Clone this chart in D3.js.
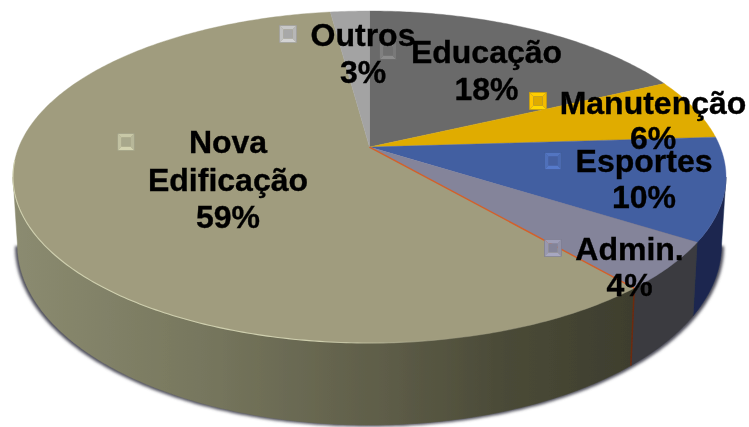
<!DOCTYPE html>
<html><head><meta charset="utf-8">
<script src="https://cdn.jsdelivr.net/npm/d3@7/dist/d3.min.js"></script>
<style>html,body{margin:0;padding:0;background:#fff}svg{display:block}</style>
</head><body><svg id="c" width="749" height="427"></svg>
<script>
const categories = ["Educação","Manutenção","Esportes","Admin.","Nova Edificação","Outros"];
const values = [18,6,10,4.7,59.2,2.1];
const percentLabels = ["18%","6%","10%","4%","59%","3%"];
const topColors = ["#6b6b6b","#e0ac00","#435ea1","#84849a","#a09c7e","#a3a3a3"];
const sideColors = ["#3a3a3a","#7a5e00","#1b2850","#3a3b40","#45452f","#555555"];
const keyColors = ["#777777","#eeb800","#4a68ad","#8e8ea4","#b4b496","#b4b4b4"];
const labelLines = [["Educação"],["Manutenção"],["Esportes"],["Admin."],["Nova","Edificação"],["Outros"]];

const svg = d3.select("#c");
const defs = svg.append("defs");
const tilt = 0.18;
const topX = d3.scaleLinear().domain([-1,1]).range([13,726]);
const topY = d3.scaleLinear().domain([-1,1]).range([343,11]);
const botX = d3.scaleLinear().domain([-1,1]).range([17.5,721.5]);
const botY = d3.scaleLinear().domain([-1,1]).range([425,65]);

function disk(theta){
  const u = Math.sin(theta), v = Math.cos(theta), d = 1 + tilt*v;
  return [Math.sqrt(1-tilt*tilt)*u/d, (v+tilt)/d];
}
const onTop = t => { const [a,b]=disk(t); return [topX(a),topY(b)]; };
const onBot = t => { const [a,b]=disk(t); return [botX(a),botY(b)]; };
const apex = [topX(0),topY(tilt)];
const samples = (a,b) => { const n=Math.max(2,Math.ceil((b-a)*80)); return d3.range(n+1).map(i=>a+(b-a)*i/n); };
const line = d3.line();

const arcs = d3.pie().sort(null).startAngle(0).endAngle(2*Math.PI)(values);
const visA = Math.acos(-tilt), visB = 2*Math.PI-visA;

const blur = defs.append("filter").attr("id","sh").attr("x","-5%").attr("y","-5%").attr("width","110%").attr("height","115%");
blur.append("feGaussianBlur").attr("stdDeviation",1.5);
const soft = defs.append("filter").attr("id","soft").attr("x","-2%").attr("y","-2%").attr("width","104%").attr("height","104%");
soft.append("feGaussianBlur").attr("stdDeviation",0.45);

const root = svg.append("g").attr("filter","url(#soft)");

// contact shadow under the disc
const botPts = samples(visA,visB).map(onBot);
root.append("path").attr("d", line(botPts.map(p=>[p[0]+(p[0]<369?-2.5:2.5),p[1]+1.5]).concat([[369,150]]))+"Z")
  .attr("fill","#50505c").attr("filter","url(#sh)");

const g0 = defs.append("linearGradient").attr("id","gNova").attr("gradientUnits","userSpaceOnUse")
  .attr("x1",15).attr("x2",630).attr("y1",0).attr("y2",0);
[[0,"#8b8b70"],[0.3,"#77775e"],[0.6,"#5e5d48"],[0.8,"#4a4a37"],[1,"#3e3e2e"]].forEach(s=>g0.append("stop").attr("offset",s[0]).attr("stop-color",s[1]));

const g1 = defs.append("linearGradient").attr("id","gRim").attr("gradientUnits","userSpaceOnUse")
  .attr("x1",13).attr("x2",450).attr("y1",0).attr("y2",0);
[[0,1],[0.7,1],[1,0]].forEach(s=>g1.append("stop").attr("offset",s[0]).attr("stop-color","#cfcfae").attr("stop-opacity",s[1]));

arcs.forEach((a,i)=>{
  const s = Math.max(a.startAngle,visA), e = Math.min(a.endAngle,visB);
  if (e<=s) return;
  const th = samples(s,e);
  const pts = th.map(onTop).concat(th.slice().reverse().map(onBot));
  const fill = categories[i]==="Nova Edificação" ? "url(#gNova)" : sideColors[i];
  root.append("path").attr("d",line(pts)+"Z").attr("fill",fill).attr("stroke",fill).attr("stroke-width",0.5);
});

arcs.forEach((a,i)=>{
  const pts = [apex].concat(samples(a.startAngle,a.endAngle).map(onTop));
  root.append("path").attr("d",line(pts)+"Z").attr("fill",topColors[i]).attr("stroke",topColors[i]).attr("stroke-width",0.4);
});

// rim highlight and orange seam of the large slice
const nova = arcs[categories.indexOf("Nova Edificação")];
root.append("path").attr("d",line(samples(Math.PI*0.93,visB+0.1).map(onTop)))
  .attr("fill","none").attr("stroke","url(#gRim)").attr("stroke-width",1.1);
const seam = nova.startAngle;
root.append("path").attr("d",line([apex,onTop(seam)])).attr("stroke","#d4602a").attr("stroke-width",1.4).attr("fill","none");
root.append("path").attr("d",line([onTop(seam),onBot(seam)])).attr("stroke","#6e2a10").attr("stroke-width",1.5).attr("fill","none");

// bevelled label keys and labels
const layout = [
  {kx:388,ky:51,tx:486.5,ty:63,ly:37},
  {kx:538,ky:101,tx:653,ty:114,ly:35},
  {kx:553,ky:161,tx:644,ty:172,ly:36},
  {kx:553,ky:248,tx:629.5,ty:260,ly:36},
  {kx:126,ky:142,tx:228,ty:153,ly:37.5},
  {kx:288,ky:34,tx:363,ty:46,ly:37}
];
const order = [4,5,0,1,2,3];
order.forEach(i=>{
  const L = layout[i], c = d3.color(keyColors[i]), s = 8.5;
  const x0=L.kx-s,x1=L.kx+s,y0=L.ky-s,y1=L.ky+s,b=4;
  const g = root.append("g");
  const facet = (p,col)=>g.append("path").attr("d",line(p)+"Z").attr("fill",col);
  facet([[x0,y0],[x1,y0],[x1-b,y0+b],[x0+b,y0+b]], c.brighter(0.3));
  facet([[x0,y1],[x1,y1],[x1-b,y1-b],[x0+b,y1-b]], c.brighter(0.45));
  facet([[x0,y0],[x0+b,y0+b],[x0+b,y1-b],[x0,y1]], c.brighter(0.2));
  facet([[x1,y0],[x1-b,y0+b],[x1-b,y1-b],[x1,y1]], c.brighter(0.05));
  g.append("rect").attr("x",x0+b).attr("y",y0+b).attr("width",2*s-2*b).attr("height",2*s-2*b).attr("fill",c.darker(0.2));
  g.append("rect").attr("x",x0).attr("y",y0).attr("width",2*s).attr("height",2*s).attr("fill","none").attr("stroke",c.darker(0.4)).attr("stroke-width",0.6);
});
order.forEach(i=>{
  const L = layout[i];
  labelLines[i].concat([percentLabels[i]]).forEach((t,j)=>{
    root.append("text").attr("x",L.tx).attr("y",L.ty+j*L.ly).attr("text-anchor","middle")
      .attr("font-family","'Liberation Sans',Arial,sans-serif").attr("font-weight","700")
      .attr("font-size",32).attr("fill","#000").attr("stroke","#000").attr("stroke-width",0.35).text(t);
  });
});
</script></body></html>
